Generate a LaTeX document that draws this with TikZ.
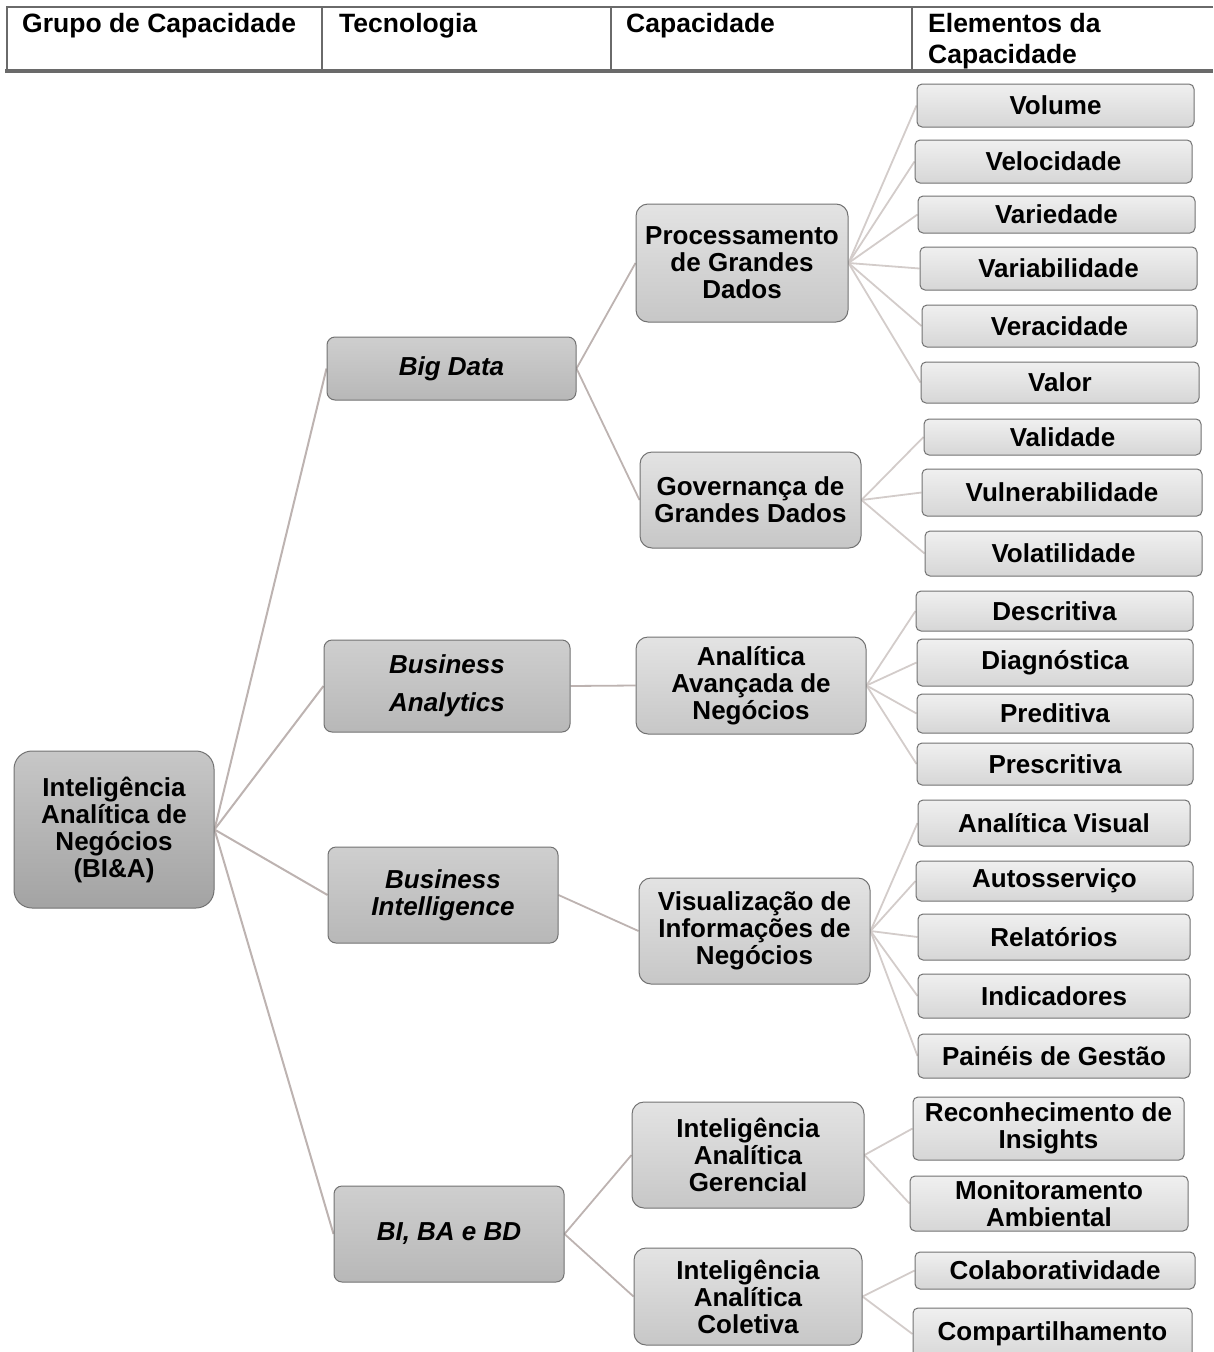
\documentclass[tikz,border=0pt]{standalone}
\usepackage{fontspec}
\setmainfont{Liberation Sans}
\usetikzlibrary{backgrounds}
\definecolor{rule}{HTML}{6A6A6A}
\definecolor{boxline}{HTML}{727272}
\definecolor{linkA}{HTML}{BDB3B1}
\definecolor{linkB}{HTML}{D3CCCA}
\tikzset{
  bx/.style={draw=boxline, line width=1pt, align=center, inner sep=0pt,
    font=\bfseries\fontsize{26}{27}\selectfont},
  rootbox/.style={bx, rounded corners=18pt, top color=black!22, bottom color=black!36},
  techbox/.style={bx, rounded corners=8pt, top color=black!19, bottom color=black!28,
    font=\bfseries\itshape\fontsize{26}{27}\selectfont},
  capbox/.style={bx, rounded corners=12pt, top color=black!11, bottom color=black!22},
  elbox/.style={bx, rounded corners=5pt, top color=black!6, bottom color=black!16},
  linkroot/.style={draw=linkA, line width=2pt},
  linkmid/.style={draw=linkA, line width=1.8pt},
  linkleaf/.style={draw=linkB, line width=1.8pt},
  headtext/.style={anchor=north west, align=left, inner sep=0pt,
    font=\bfseries\fontsize{26.5}{31}\selectfont},
}
% place a box by its corner coordinates
\newcommand\placebox[7]{%
  \pgfmathsetmacro\bcx{(#3+#5)/2}\pgfmathsetmacro\bcy{(#4+#6)/2}%
  \pgfmathsetmacro\bww{#5-#3}\pgfmathsetmacro\bhh{#6-#4}%
  \node[#2, minimum width=\bww pt, minimum height=\bhh pt] (#1) at (\bcx,\bcy) {#7};}
\begin{document}
\begin{tikzpicture}[x=1pt, y=-1pt]
\useasboundingbox (0,0) rectangle (1213,1352);

% header row
\draw[rule, line width=2pt] (1213,7) -- (7,7) -- (7,72);
\draw[rule, line width=4pt] (5,70.5) -- (1213,70.5);
\draw[rule, line width=2pt] (322,7) -- (322,69) (611,7) -- (611,69) (912,7) -- (912,69);
\node[headtext] (h1) at (22,13) {Grupo de Capacidade};
\node[headtext] (h2) at (339,13) {Tecnologia};
\node[headtext] (h3) at (626,13) {Capacidade};
\node[headtext] (h4) at (928,13) {Elementos da\\Capacidade};

% root
\placebox{root}{rootbox}{14}{751}{214}{908}{Inteligência\\Analítica de\\Negócios\\(BI\&A)}

% technologies
\placebox{bd}{techbox}{327}{337}{576}{400}{Big Data}
\placebox{ba}{techbox,font=\bfseries\itshape\fontsize{26}{38}\selectfont}{324}{640}{570}{732}{Business\\Analytics}
\placebox{bi}{techbox}{328}{847}{558}{943}{Business\\Intelligence}
\placebox{bb}{techbox}{334}{1186}{564}{1282}{BI, BA e BD}

% capabilities
\placebox{pgd}{capbox}{636}{204}{848}{322}{Processamento\\de Grandes\\Dados}
\placebox{ggd}{capbox}{640}{452}{861}{548}{Governança de\\Grandes Dados}
\placebox{aan}{capbox}{636}{637}{866}{734}{Analítica\\Avançada de\\Negócios}
\placebox{vin}{capbox}{639}{878}{870}{984}{Visualização de\\Informações de\\Negócios}
\placebox{iag}{capbox}{632}{1102}{864}{1208}{Inteligência\\Analítica\\Gerencial}
\placebox{iac}{capbox}{634}{1248}{862}{1345}{Inteligência\\Analítica\\Coletiva}

% capability elements
\placebox{e1}{elbox}{917}{84}{1194}{127}{Volume}
\placebox{e2}{elbox}{915}{140}{1192}{183}{Velocidade}
\placebox{e3}{elbox}{918}{196}{1195}{233}{Variedade}
\placebox{e4}{elbox}{920}{247}{1197}{290}{Variabilidade}
\placebox{e5}{elbox}{922}{305}{1197}{347}{Veracidade}
\placebox{e6}{elbox}{921}{362}{1199}{403}{Valor}
\placebox{e7}{elbox}{924}{419}{1201}{455}{Validade}
\placebox{e8}{elbox}{922}{469}{1202}{516}{Vulnerabilidade}
\placebox{e9}{elbox}{925}{531}{1202}{576}{Volatilidade}
\placebox{e10}{elbox}{916}{591}{1193}{631}{Descritiva}
\placebox{e11}{elbox}{917}{639}{1193}{686}{Diagnóstica}
\placebox{e12}{elbox}{917}{694}{1193}{733}{Preditiva}
\placebox{e13}{elbox}{917}{743}{1193}{785}{Prescritiva}
\placebox{e14}{elbox}{918}{800}{1190}{846}{Analítica Visual}
\placebox{e15}{elbox}{916}{861}{1193}{901}{Autosserviço}
\placebox{e16}{elbox}{918}{914}{1190}{960}{Relatórios}
\placebox{e17}{elbox}{918}{974}{1190}{1018}{Indicadores}
\placebox{e18}{elbox}{918}{1034}{1190}{1078}{Painéis de Gestão}
\placebox{e19}{elbox}{913}{1097}{1184}{1160}{Reconhecimento de\\Insights}
\placebox{e20}{elbox}{910}{1176}{1188}{1231}{Monitoramento\\Ambiental}
\placebox{e21}{elbox}{915}{1252}{1195}{1289}{Colaboratividade}
\placebox{e22}{elbox}{913}{1308}{1192}{1360}{Compartilhamento}

% connectors, drawn behind the boxes
\begin{scope}[on background layer]
  \foreach \t in {bd,ba,bi,bb} \draw[linkroot] (root.east) -- (\t.west);
  \draw[linkmid] (bd.east) -- (pgd.west);
  \draw[linkmid] (bd.east) -- (ggd.west);
  \draw[linkmid] (ba.east) -- (aan.west);
  \draw[linkmid] (bi.east) -- (vin.west);
  \draw[linkmid] (bb.east) -- (iag.west);
  \draw[linkmid] (bb.east) -- (iac.west);
  \foreach \e in {e1,e2,e3,e4,e5,e6} \draw[linkleaf] (pgd.east) -- (\e.west);
  \foreach \e in {e7,e8,e9} \draw[linkleaf] (ggd.east) -- (\e.west);
  \foreach \e in {e10,e11,e12,e13} \draw[linkleaf] (aan.east) -- (\e.west);
  \foreach \e in {e14,e15,e16,e17,e18} \draw[linkleaf] (vin.east) -- (\e.west);
  \foreach \e in {e19,e20} \draw[linkleaf] (iag.east) -- (\e.west);
  \foreach \e in {e21,e22} \draw[linkleaf] (iac.east) -- (\e.west);
\end{scope}
\end{tikzpicture}
\end{document}
